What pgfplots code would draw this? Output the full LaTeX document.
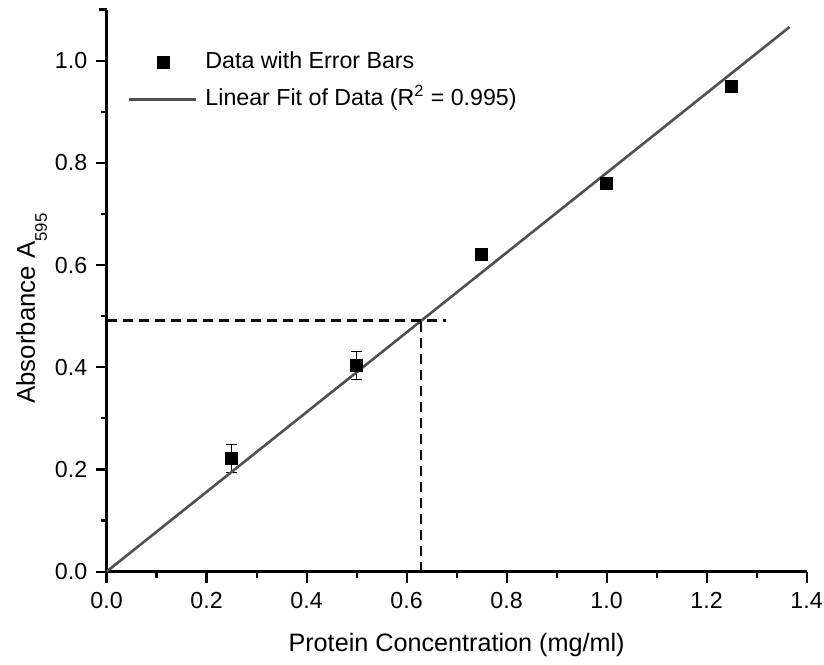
\documentclass[border=0pt]{standalone}
\usepackage{pgfplots}
\pgfplotsset{compat=1.18}
\usetikzlibrary{calc}
\usepackage{fontspec}
\setmainfont{Liberation Sans}
\definecolor{fitgray}{RGB}{80,80,80}
\begin{document}
\begin{tikzpicture}
\useasboundingbox (-53.3pt,-46.2pt) rectangle (358.7pt,285.8pt);
\begin{axis}[
  at={(0,0)}, anchor=south west,
  scale only axis,
  width=350pt, height=281pt,
  xmin=0, xmax=1.4, ymin=0, ymax=1.1,
  axis lines=left,
  axis line style={-, line width=1.3pt},
  xtick={0,0.2,...,1.4}, ytick={0,0.2,...,1.0},
  minor x tick num=1, minor y tick num=1,
  extra y ticks={1.1}, extra y tick labels={},
  extra y tick style={major tick length=4pt},
  tick align=outside,
  major tick length=5.5pt, minor tick length=3pt,
  tick style={black, line width=1.1pt},
  /pgf/number format/assume math mode=true,
  /pgf/number format/fixed, /pgf/number format/fixed zerofill, /pgf/number format/precision=1,
  tick label style={font=\fontsize{11.6}{13}\selectfont},
  xticklabel style={anchor=base, yshift=-13pt},
  yticklabel style={anchor=east, inner xsep=0pt, xshift=-4pt},
  xlabel={Protein Concentration (mg/ml)},
  ylabel={Absorbance A\raisebox{-6pt}{\fontsize{8.4}{9}\selectfont 595}},
  xlabel style={at={($(axis description cs:0.5,0)+(0,-40pt)$)}, anchor=base, font=\fontsize{12.6}{14}\selectfont},
  ylabel style={at={($(axis description cs:0,0.5)+(-35.8pt,-9pt)$)}, anchor=base, font=\fontsize{12.9}{14}\selectfont},
  legend style={draw=none, fill=none, inner sep=0pt, outer sep=0pt,
    at={(axis cs:0.0426,1.0)}, anchor=north west, yshift=4.5pt,
    font=\fontsize{11.6}{14}\selectfont, row sep=7.5pt,
    nodes={inner sep=0pt, text height=8.5pt, text depth=2.5pt}},
  legend cell align=left,
  clip=false,
]
\addplot[only marks, mark=square*, mark size=3pt, black,
  error bars/.cd, y dir=both, y explicit,
  error bar style={black, line width=0.5pt},
  error mark options={rotate=90, mark size=2.6pt, line width=0.5pt},
  /pgfplots/legend image code/.code={\fill[black] (14pt,-3pt) rectangle (20pt,3pt); \path[draw=none, fill=none] (0pt,0pt) rectangle (33.5pt,0.1pt);},
  ]
  coordinates {
  (0.25,0.221) +- (0,0.027)
  (0.5,0.403) +- (0,0.027)
  (0.75,0.62) +- (0,0.003)
  (1.0,0.76) +- (0,0.003)
  (1.25,0.95) +- (0,0.003)
  };
\addlegendentry{\hspace{4pt}Data with Error Bars}
\addplot[fitgray, line width=1.3pt,
  legend image code/.code={\draw[fitgray, line width=1.3pt] (0pt,0pt) -- (33.5pt,0pt);}]
  coordinates {(0,0) (1.366,1.066)};
\addlegendentry{\hspace{4pt}Linear Fit of Data (R\textsuperscript{2} = 0.995)}
\addplot[black, line width=1.3pt, dash pattern=on 5pt off 3pt, forget plot] coordinates {(0,0.491) (0.679,0.491)};
\addplot[black, line width=1.3pt, dash pattern=on 5pt off 3pt, forget plot] coordinates {(0.629,0) (0.629,0.491)};
\end{axis}
\end{tikzpicture}
\end{document}
